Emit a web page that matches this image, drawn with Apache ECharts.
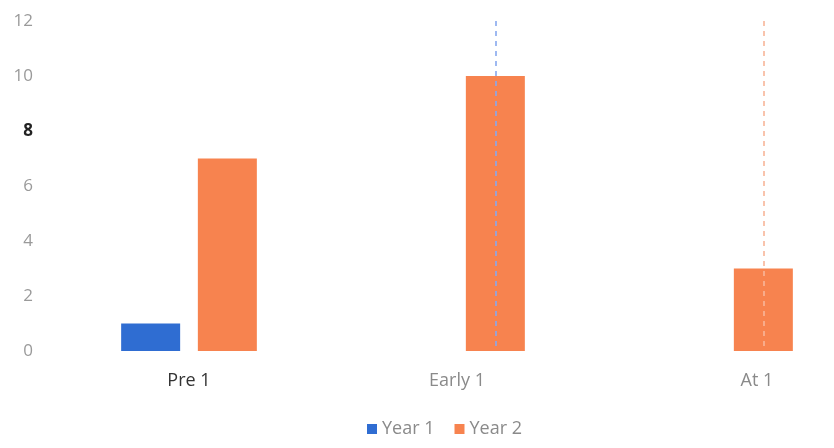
<!DOCTYPE html>
<html>
<head>
<meta charset="utf-8">
<script src="https://cdn.jsdelivr.net/npm/echarts@6/dist/echarts.min.js"></script>
<style>
  html, body { margin: 0; padding: 0; background: #fff; }
  #chart { width: 834px; height: 448px; }
</style>
</head>
<body>
<div id="chart"></div>
<script>
// Categories and series values
const categories = ['Pre 1', 'Early 1', 'At 1'];
const year1 = [1, 0, 0];
const year2 = [7, 10, 3];
const yTicks = [0, 2, 4, 6, 8, 10, 12];
const seriesNames = ['Year 1', 'Year 2'];

const FONT = 'Open Sans';
const chart = echarts.init(document.getElementById('chart'));

chart.setOption({
  animation: false,
  grid: { left: 55, top: 21, width: 804, height: 330, outerBoundsMode: 'none', containLabel: false },
  legend: {
    data: seriesNames,
    top: 415,
    left: 362,
    itemWidth: 10,
    itemHeight: 10,
    itemGap: 20,
    icon: 'rect',
    textStyle: { color: '#8a8a8a', fontSize: 18, fontFamily: FONT }
  },
  xAxis: {
    type: 'category',
    data: categories,
    axisLine: { show: false },
    axisTick: { show: false },
    axisLabel: {
      margin: 21,
      fontFamily: FONT,
      fontSize: 18,
      formatter: (v, i) => ['{a|' + v + '}', '{b|' + v + '}', '{c|' + v + '}'][i],
      rich: {
        a: { color: '#333', fontSize: 18, fontFamily: FONT },
        b: { color: '#8a8a8a', fontSize: 18, fontFamily: FONT },
        c: { color: '#8a8a8a', fontSize: 18, fontFamily: FONT, padding: [0, 0, 0, 64] }
      }
    }
  },
  yAxis: {
    type: 'value',
    min: yTicks[0],
    max: yTicks[yTicks.length - 1],
    interval: 2,
    splitLine: { show: false },
    axisLine: { show: false },
    axisTick: { show: false },
    axisLabel: {
      margin: 22,
      fontFamily: FONT,
      fontSize: 17,
      formatter: v => (v === 8 ? '{d|' + v + '}' : '{g|' + v + '}'),
      rich: {
        d: { color: '#222', fontSize: 17, fontWeight: 'bold', fontFamily: FONT },
        g: { color: '#9a9a9a', fontSize: 17, fontFamily: FONT }
      }
    }
  },
  series: [
    {
      name: seriesNames[0],
      type: 'bar',
      data: year1,
      barWidth: 59,
      barGap: '30%',
      itemStyle: { color: '#2f6dd2' }
    },
    {
      name: seriesNames[1],
      type: 'bar',
      data: year2,
      barWidth: 59,
      barGap: '30%',
      itemStyle: { color: '#f7834f' },
      markLine: {
        silent: true,
        symbol: 'none',
        label: { show: false },
        data: [
          [
            { coord: [categories[1], 12], lineStyle: { color: '#86a8ee', type: [5, 5], width: 2, opacity: 0.8 } },
            { coord: [categories[1], 0] }
          ],
          [
            { coord: [categories[2], 12], lineStyle: { color: '#f8b598', type: [5, 5], width: 2, opacity: 0.8 } },
            { coord: [categories[2], 0] }
          ]
        ]
      }
    }
  ]
});
</script>
</body>
</html>
